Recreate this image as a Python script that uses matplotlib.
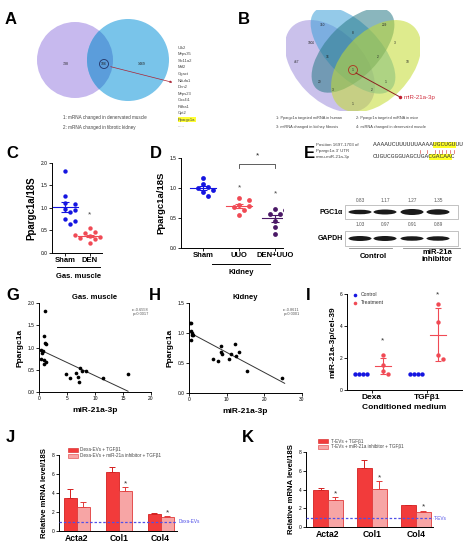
import numpy as np
import matplotlib
matplotlib.use('Agg')
import matplotlib.pyplot as plt
from matplotlib.patches import Circle, Ellipse, Rectangle

plt.rcParams['font.family'] = ['Liberation Sans', 'DejaVu Sans']

# ---------------- data ----------------
venn_a_counts = ['738', '106', '1469']
venn_a_legend = ['1: mRNA changed in denervated muscle', '2: mRNA changed in fibrotic kidney']
gene_list = ['Ulk2', 'Mrps35', 'Slc11a2', 'Mtf2', 'Ggact', 'Ndufa1', 'Dnn2', 'Mrps23',
             'Cox4i1', 'Pdha1', 'Cpt2', 'Ppargc1a', '......']
venn_b_counts = ['467', '710', '239', '10', '1006', '8', '3', '16', '2', '1', '20', '1', '3', '2', '1']
venn_b_legend = ['1: Ppargc1a targeted miRNA in human', '2: Ppargc1a targeted miRNA in mice',
                 '3: miRNA changed in kidney fibrosis', '4: miRNA changed in denervated muscle']

c_groups = ['Sham', 'DEN']
c_sham = [1.83, 1.27, 1.12, 1.09, 0.98, 0.96, 0.90, 0.76, 0.72, 0.65]
c_den = [0.55, 0.47, 0.45, 0.44, 0.40, 0.38, 0.36, 0.33, 0.31, 0.30, 0.22]

d_groups = ['Sham', 'UUO', 'DEN+UUO']
d_sham = [1.17, 1.07, 1.02, 1.00, 0.97, 0.93, 0.87]
d_uuo = [0.83, 0.80, 0.72, 0.70, 0.68, 0.63, 0.55]
d_denuuo = [0.65, 0.63, 0.57, 0.57, 0.45, 0.35, 0.23]

e_seq_utr = 'AAAAUCUUUUUUAAAAUGCUGUUU'
e_seq_mir = 'CUGUCGGGUAGCUGACGACAAC'
e_pgc_vals = ['0.83', '1.17', '1.27', '1.35']
e_gapdh_vals = ['1.03', '0.97', '0.91', '0.89']

g_x = [1.1, 0.9, 1.0, 1.3, 0.3, 0.6, 0.8, 0.4, 0.9, 0.9, 1.2, 4.9, 5.5, 6.6, 6.9, 7.2, 7.3, 7.6, 8.4, 11.4, 15.9]
g_y = [1.83, 1.26, 1.11, 1.08, 0.94, 0.88, 0.92, 0.75, 0.72, 0.64, 0.68, 0.40, 0.32, 0.42, 0.34, 0.23, 0.55, 0.48, 0.48, 0.32, 0.40]
h_x = [0.2, 0.5, 0.6, 0.8, 0.9, 1.1, 0.6, 6.4, 7.7, 8.4, 8.5, 8.8, 10.6, 11.2, 12.2, 12.6, 13.4, 15.5, 24.8]
h_y = [1.17, 1.17, 1.04, 1.00, 0.97, 0.96, 0.88, 0.57, 0.54, 0.79, 0.69, 0.65, 0.57, 0.65, 0.82, 0.61, 0.69, 0.36, 0.25]

i_groups = ['Dexa', 'TGFβ1']
i_ctrl = [[1.0, 1.0, 1.0, 1.0], [1.0, 1.0, 1.0, 1.0]]
i_treat = [[2.19, 1.56, 1.20, 1.02], [5.37, 4.27, 2.17, 1.96]]

genes = ['Acta2', 'Col1', 'Col4']
j_dark = [3.5, 6.25, 1.8]
j_dark_err = [0.95, 0.45, 0.1]
j_light = [2.55, 4.25, 1.45]
j_light_err = [0.55, 0.35, 0.15]
j_base = 1.0
k_dark = [3.95, 6.25, 2.3]
k_dark_err = [0.25, 0.95, 0.05]
k_light = [2.9, 4.1, 1.65]
k_light_err = [0.3, 0.8, 0.1]
k_base = 0.95

# ---------------- figure ----------------
W, H = 472, 552
fig = plt.figure(figsize=(4.72, 5.52), dpi=100)
ov = fig.add_axes([0, 0, 1, 1])
ov.set_xlim(0, W); ov.set_ylim(H, 0); ov.axis('off')
ov.patch.set_visible(False)


def px_ax(x0, y0, x1, y1):
    a = fig.add_axes([x0 / W, 1 - y1 / H, (x1 - x0) / W, (y1 - y0) / H])
    a.patch.set_alpha(0)
    return a


def prism(ax, fs=3.5):
    for s in ['top', 'right']:
        ax.spines[s].set_visible(False)
    for s in ['left', 'bottom']:
        ax.spines[s].set_linewidth(0.7)
    ax.tick_params(length=2, width=0.6, labelsize=fs, pad=1)


def swarm(vals, ppx, ppy, d, step=0.55):
    placed = []
    offs = [0.0] * len(vals)
    order = np.argsort(vals)[::-1]
    cands = [0.0]
    for j in range(1, 30):
        cands += [j * d * step, -j * d * step]
    for i in order:
        y = vals[i] * ppy
        for c in cands:
            if all((c - a) ** 2 + (y - b) ** 2 >= d * d for a, b in placed):
                break
        placed.append((c, y))
        offs[i] = c / ppx
    return offs


def letter(x, y, s):
    ov.text(x, y, s, fontsize=12, fontweight='bold', ha='left', va='center')


# ---------- A ----------
letter(5, 19, 'A')
ov.add_patch(Circle((75, 60), 38, facecolor='#c7b9ee', edgecolor='none'))
ov.add_patch(Circle((128, 60), 41, facecolor='#79c4ea', edgecolor='none'))
clipc = Circle((75, 60), 38, transform=ov.transData)
inter = Circle((128, 60), 41, facecolor='#5b9ddb', edgecolor='none')
ov.add_patch(inter)
inter.set_clip_path(clipc)
for (x, y), t in zip([(66, 64), (104, 64), (142, 64)], venn_a_counts):
    ov.text(x, y, t, fontsize=2.5, ha='center', va='center', color='#222')
ov.add_patch(Circle((104, 64), 4.5, facecolor='none', edgecolor='#223366', lw=0.6))
ov.annotate('', xy=(175, 83), xytext=(108, 66),
            arrowprops=dict(arrowstyle='-|>', color='#aa2233', lw=0.5, mutation_scale=3))
for k, g in enumerate(gene_list):
    yy = 48 + k * 6.5
    ov.text(178, yy, g, fontsize=3.0, color='#444', va='center',
            bbox=dict(facecolor='#ffff33', edgecolor='none', pad=0.3) if g == 'Ppargc1a' else None)
ov.text(63, 118, venn_a_legend[0], fontsize=3.3, color='#444', va='center')
ov.text(63, 127, venn_a_legend[1], fontsize=3.3, color='#444', va='center')

# ---------- B ----------
letter(238, 19, 'B')
axb = px_ax(286, 10, 420, 111)
axb.set_zorder(-1)
axb.set_xlim(0.065, 0.935); axb.set_ylim(0.185, 0.826); axb.axis('off')
ell = [((0.35, 0.47), 0.70, 0.44, 135, '#9f8fdc'),
       ((0.50, 0.57), 0.70, 0.34, 135, '#3d9fd8'),
       ((0.50, 0.57), 0.68, 0.34, 45, '#2a7a88'),
       ((0.65, 0.47), 0.70, 0.44, 45, '#c4dc30')]
for (c, w, h, ang, col) in ell:
    axb.add_patch(Ellipse(c, w, h, angle=ang, facecolor=col, alpha=0.55, edgecolor='none'))
b_pos = [(297, 62), (322, 25), (384, 25), (407, 62), (311, 43), (353, 33), (395, 43),
         (328, 57), (378, 57), (353, 70), (320, 82), (386, 82), (333, 90), (372, 90), (353, 104)]
for (x, y), t in zip(b_pos, venn_b_counts):
    ov.text(x, y, t, fontsize=2.3, ha='center', va='center', color='#222')
ov.add_patch(Circle((353, 70), 4.5, facecolor='none', edgecolor='#b03020', lw=0.6))
ov.plot([356, 400], [73, 97], color='#8b2020', lw=0.7)
ov.plot([400], [97], 'o', color='#c02030', ms=1.5)
ov.text(404, 97, 'miR-21a-3p', fontsize=4.4, color='#d03040', va='center')
ov.text(276, 118, venn_b_legend[0], fontsize=2.8, color='#444', va='center')
ov.text(356, 118, venn_b_legend[1], fontsize=2.8, color='#444', va='center')
ov.text(276, 127, venn_b_legend[2], fontsize=2.8, color='#444', va='center')
ov.text(356, 127, venn_b_legend[3], fontsize=2.8, color='#444', va='center')

# ---------- C ----------
letter(6, 154, 'C')
axc = px_ax(52, 163, 102, 253)
prism(axc)
axc.set_xlim(-0.52, 1.48); axc.set_ylim(0, 2.0)
axc.set_yticks([0, 0.5, 1.0, 1.5, 2.0])
axc.set_yticklabels(['0.0', '0.5', '1.0', '1.5', '2.0'])
axc.set_xticks([0, 1])
axc.set_xticklabels(c_groups, fontsize=5.5, fontweight='bold')
axc.set_ylabel('Ppargc1a/18S', fontsize=7, fontweight='bold', labelpad=3)
for gi, (vals, col) in enumerate([(c_sham, '#1515e0'), (c_den, '#f04a55')]):
    offs = swarm(vals, 25, 45, 5.5, step=0.9)
    axc.scatter([gi + o for o in offs], vals, s=10, color=col, zorder=3, linewidths=0)
    m = np.mean(vals); se = np.std(vals, ddof=1) / np.sqrt(len(vals))
    axc.plot([gi - 0.5, gi + 0.5], [m, m], color=col, lw=0.8, zorder=4)
    axc.errorbar(gi, m, yerr=se, color=col, capsize=3, lw=0.8, capthick=0.8, zorder=4)
axc.text(1, 0.85, '*', fontsize=6, ha='center', va='center', color='#444')
ov.plot([57, 100], [267, 267], color='black', lw=0.7)
ov.text(79, 277, 'Gas. muscle', fontsize=5.5, fontweight='bold', ha='center', va='center')

# ---------- D ----------
letter(150, 154, 'D')
axd = px_ax(181, 158, 283, 248)
prism(axd)
axd.set_xlim(-0.61, 2.22); axd.set_ylim(0, 1.5)
axd.set_yticks([0, 0.5, 1.0, 1.5])
axd.set_yticklabels(['0.0', '0.5', '1.0', '1.5'])
axd.set_xticks([0, 1, 2])
axd.set_xticklabels(d_groups, fontsize=5.5, fontweight='bold')
axd.set_ylabel('Ppargc1a/18S', fontsize=6.8, fontweight='bold', labelpad=3)
for gi, (vals, col) in enumerate([(d_sham, '#1515e0'), (d_uuo, '#f04a55'), (d_denuuo, '#4a1866')]):
    offs = swarm(vals, 36, 60, 5.5, step=0.9)
    axd.scatter([gi + o for o in offs], vals, s=12, color=col, zorder=3, linewidths=0)
    m = np.mean(vals); se = np.std(vals, ddof=1) / np.sqrt(len(vals))
    axd.plot([gi - 0.37, gi + 0.37], [m, m], color=col, lw=0.8, zorder=4)
    axd.errorbar(gi, m, yerr=se, color=col, capsize=3, lw=0.8, capthick=0.8, zorder=4)
axd.text(1, 1.0, '*', fontsize=6, ha='center', va='center', color='#444')
axd.text(2, 0.9, '*', fontsize=6, ha='center', va='center', color='#444')
axd.plot([1, 1, 2, 2], [1.34, 1.40, 1.40, 1.34], color='#444', lw=0.6, clip_on=False)
axd.text(1.5, 1.54, '*', fontsize=6, ha='center', va='center', color='#222', clip_on=False)
ov.plot([212, 270], [264, 264], color='black', lw=0.7)
ov.text(241, 273, 'Kidney', fontsize=5.5, fontweight='bold', ha='center', va='center')

# ---------- E ----------
letter(304, 154, 'E')
mono = 'Liberation Mono'
ov.text(316, 145, 'Position 1697-1703 of', fontsize=3.2, color='#444', va='center')
ov.text(316, 151, "Ppargc1a 3' UTR", fontsize=3.2, color='#444', va='center')
ov.text(316, 157, 'mmu-miR-21a-3p', fontsize=3.2, color='#444', va='center')
cw = 3.75
x0 = 373
for s, y, (i0, i1) in [(e_seq_utr, 145, (16, 22)), (e_seq_mir, 157, (15, 21))]:
    ov.add_patch(Rectangle((x0 + i0 * cw, y - 2.8), (i1 - i0) * cw, 5.6, facecolor='#ffff00',
                           edgecolor='none', alpha=0.85))
    ov.text(x0, y, s, fontsize=4.5, family=mono, color='#333', va='center')
for idx in [12, 14, 16, 17, 18, 19, 20, 21]:
    ov.plot([x0 + (idx + 0.5) * cw] * 2, [149.5, 153], color='#e05050', lw=0.5)
lanes = [360, 385, 412, 438]
for x, t in zip(lanes, e_pgc_vals):
    ov.text(x, 201, t, fontsize=3.4, color='#555', ha='center', va='center')
for x, t in zip(lanes, e_gapdh_vals):
    ov.text(x, 224, t, fontsize=3.4, color='#555', ha='center', va='center')
ov.add_patch(Rectangle((345, 205), 113, 14, facecolor='none', edgecolor='#aaa', lw=0.5))
ov.add_patch(Rectangle((345, 231), 113, 15, facecolor='none', edgecolor='#aaa', lw=0.5))
for x, h in zip(lanes, [4.5, 5, 6, 5.5]):
    ov.add_patch(Ellipse((x, 212), 23, h, facecolor='#1a1a1a', edgecolor='none'))
for x, h in zip(lanes, [5, 5, 4.5, 4.5]):
    ov.add_patch(Ellipse((x, 238.5), 23, h, facecolor='#1a1a1a', edgecolor='none'))
ov.text(320, 212, 'PGC1α', fontsize=5, fontweight='bold', va='center')
ov.text(318, 238.5, 'GAPDH', fontsize=5, fontweight='bold', va='center')
ov.plot([349, 392], [248, 248], color='#888', lw=0.6)
ov.plot([403, 460], [248, 248], color='#888', lw=0.6)
ov.text(373, 256, 'Control', fontsize=5.5, fontweight='bold', ha='center', va='center')
ov.text(437, 256, 'miR-21a\ninhibitor', fontsize=5.5, fontweight='bold', ha='center', va='center',
        linespacing=1.0)

# ---------- G ----------
letter(6, 295, 'G')
axg = px_ax(39, 303, 151, 392)
prism(axg)
axg.set_xlim(0, 20); axg.set_ylim(0, 2.0)
axg.set_xticks([0, 5, 10, 15, 20])
axg.set_yticks([0, 0.5, 1.0, 1.5, 2.0])
axg.set_yticklabels(['0.0', '0.5', '1.0', '1.5', '2.0'])
axg.scatter(g_x, g_y, s=7, color='black', zorder=3, linewidths=0)
p = np.polyfit(g_x, g_y, 1)
xx = np.array([min(g_x), max(g_x)])
axg.plot(xx, np.polyval(p, xx), color='#333', lw=0.7)
axg.set_title('Gas. muscle', fontsize=5.5, fontweight='bold', pad=3)
axg.set_ylabel('Ppargc1a', fontsize=6, fontweight='bold', labelpad=3)
axg.set_xlabel('miR-21a-3p', fontsize=6, fontweight='bold', labelpad=4)
axg.text(0.98, 0.9, 'r=-0.6558\np=0.0017', transform=axg.transAxes, fontsize=2.8, color='#555',
         ha='right', va='center')

# ---------- H ----------
letter(149, 295, 'H')
axh = px_ax(189, 303, 302, 393)
prism(axh)
axh.set_xlim(0, 30); axh.set_ylim(0, 1.5)
axh.set_xticks([0, 10, 20, 30])
axh.set_yticks([0, 0.5, 1.0, 1.5])
axh.set_yticklabels(['0.0', '0.5', '1.0', '1.5'])
axh.scatter(h_x, h_y, s=7, color='black', zorder=3, linewidths=0)
p = np.polyfit(h_x, h_y, 1)
xx = np.array([min(h_x) + 0.8, max(h_x) + 0.6])
axh.plot(xx, np.polyval(p, xx), color='#333', lw=0.7)
axh.set_title('Kidney', fontsize=5.5, fontweight='bold', pad=3)
axh.set_ylabel('Ppargc1a', fontsize=6, fontweight='bold', labelpad=3)
axh.set_xlabel('miR-21a-3p', fontsize=6, fontweight='bold', labelpad=4)
axh.text(0.98, 0.9, 'r=-0.8611\np<0.0001', transform=axh.transAxes, fontsize=2.8, color='#555',
         ha='right', va='center')

# ---------- I ----------
letter(306, 295, 'I')
axi = px_ax(347, 294, 462, 390)
prism(axi)
axi.set_xlim(-0.45, 1.64); axi.set_ylim(0, 6)
axi.set_yticks([0, 2, 4, 6])
axi.set_xticks([0, 1])
axi.set_xticklabels(i_groups, fontsize=6, fontweight='bold')
axi.set_ylabel('miR-21a-3p/cel-39', fontsize=6, fontweight='bold', labelpad=3)
axi.set_xlabel('Conditioned medium', fontsize=6, fontweight='bold', labelpad=2)
for gi in range(2):
    cv = i_ctrl[gi]
    n = len(cv)
    axi.scatter([gi - 0.2 + (k - (n - 1) / 2) * 0.075 for k in range(n)], cv, s=10,
                color='#1515e0', zorder=3, linewidths=0)
    tv = i_treat[gi]
    offs = swarm(tv, 55, 16, 4.6)
    axi.scatter([gi + 0.2 + o for o in offs], tv, s=10, color='#f04a55', zorder=3, linewidths=0)
    m = np.mean(tv); sd = np.std(tv, ddof=1)
    axi.plot([gi + 0.05, gi + 0.35], [m, m], color='#f04a55', lw=0.8)
    axi.errorbar(gi + 0.2, m, yerr=sd, color='#f04a55', capsize=2.5, lw=0.8, capthick=0.8)
    axi.text(gi + 0.2, max(tv) + 0.55 + (0.3 if gi == 0 else 0), '*',
             fontsize=6, ha='center', va='center', color='#333', clip_on=False)
ov.plot([355], [295], 'o', color='#1515e0', ms=2.6, mew=0)
ov.plot([355], [303], 'o', color='#f04a55', ms=2.6, mew=0)
ov.text(361, 295, 'Control', fontsize=3.6, va='center', color='#333')
ov.text(361, 303, 'Treatment', fontsize=3.6, va='center', color='#333')


# ---------- J / K ----------
def bar_panel(ax, dark, derr, light, lerr, base, base_lab, xl, bw, stars):
    prism(ax)
    x = np.arange(len(genes))
    ax.bar(x - bw / 2, dark, bw, color='#f23b3b', edgecolor='#d42020', lw=0.6, zorder=2)
    ax.bar(x + bw / 2, light, bw, color='#f7a5a5', edgecolor='#e23a3a', lw=0.6, zorder=2)
    ax.errorbar(x - bw / 2, dark, yerr=[np.zeros(3), derr], fmt='none', ecolor='#d42020',
                capsize=2.2, lw=0.7, capthick=0.7, zorder=1)
    ax.errorbar(x + bw / 2, light, yerr=[np.zeros(3), lerr], fmt='none', ecolor='#e23a3a',
                capsize=2.2, lw=0.7, capthick=0.7, zorder=1)
    for i in range(3):
        if stars[i]:
            ax.text(i + bw / 2, light[i] + lerr[i] + 0.35, '*', fontsize=6, ha='center',
                    va='center', color='#333')
    ax.axhline(base, color='#5050e8', lw=0.9, ls=(0, (2, 1.5)), zorder=3, clip_on=False)
    ax.text(1.01, base, base_lab, transform=ax.get_yaxis_transform(), fontsize=3.4,
            color='#5050e8', va='center', ha='left')
    ax.set_xlim(*xl); ax.set_ylim(0, 8)
    ax.set_yticks([0, 2, 4, 6, 8])
    ax.set_xticks(x)
    ax.set_xticklabels(genes, fontsize=6.2, fontweight='bold')
    ax.tick_params(axis='x', length=0, pad=2)
    ax.set_ylabel('Relative mRNA level/18S', fontsize=5.6, fontweight='bold', labelpad=3)


letter(6, 438, 'J')
axj = px_ax(59, 455, 177, 531)
bar_panel(axj, j_dark, j_dark_err, j_light, j_light_err, j_base, 'Dexa-EVs',
          (-0.42, 2.39), 0.31, [False, True, True])
ov.add_patch(Rectangle((68, 448), 10, 4, facecolor='#f23b3b', edgecolor='#d42020', lw=0.4))
ov.add_patch(Rectangle((68, 453.5), 10, 4, facecolor='#f7a5a5', edgecolor='#e23a3a', lw=0.4))
ov.text(80, 450, 'Dexa-EVs + TGFβ1', fontsize=3.3, va='center', color='#444')
ov.text(80, 455.5, 'Dexa-EVs + miR-21a inhibitor + TGFβ1', fontsize=3.3, va='center', color='#444')

letter(242, 438, 'K')
axk = px_ax(306, 452, 433, 527)
bar_panel(axk, k_dark, k_dark_err, k_light, k_light_err, k_base, 'T-EVs',
          (-0.5, 2.39), 0.34, [True, True, True])
ov.add_patch(Rectangle((318, 439), 10, 4, facecolor='#f23b3b', edgecolor='#d42020', lw=0.4))
ov.add_patch(Rectangle((318, 444.5), 10, 4, facecolor='#f7a5a5', edgecolor='#e23a3a', lw=0.4))
ov.text(331, 441, 'T-EVs + TGFβ1', fontsize=3.3, va='center', color='#444')
ov.text(331, 446.5, 'T-EVs + miR-21a inhibitor + TGFβ1', fontsize=3.3, va='center', color='#444')

fig.savefig('out.png', dpi=100)
